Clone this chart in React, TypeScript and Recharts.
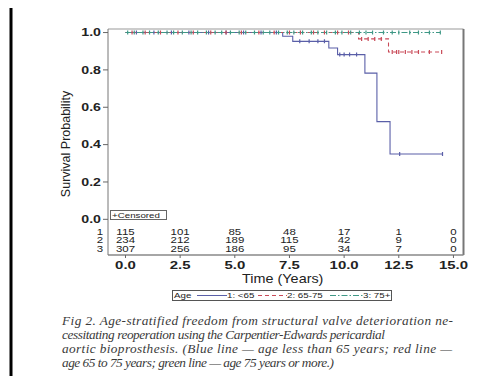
import React from 'react';
import { ComposedChart, Line, Scatter, XAxis, YAxis, ReferenceLine, Legend, Label } from 'recharts';

// ---------- data ----------
const groupLabels = ['1: <65', '2: 65-75', '3: 75+'];

// step events: [time, survival]
const age1Times = [0, 7.19, 7.65, 9.3, 9.7, 10.95, 11.5, 12.1, 14.5];
const age1Surv = [1.0, 0.98, 0.953, 0.917, 0.882, 0.783, 0.523, 0.35, 0.35];
const age2Times = [0, 10.66, 12.03, 14.46];
const age2Surv = [1.0, 0.966, 0.896, 0.896];
const age3Times = [0, 14.4];
const age3Surv = [1.0, 1.0];

// censored times
const age1Censored = [0.5, 1.3, 2.1, 2.9, 3.8, 4.6, 5.4, 6.2, 6.9, 7.97, 8.4, 8.8, 9.1, 9.8, 10.0, 10.25, 10.57, 12.54, 14.5];
const age2Censored = [0.3, 0.9, 1.6, 2.4, 3.1, 3.9, 4.6, 5.3, 6.1, 6.8, 7.5, 8.0, 8.6, 9.1, 9.7, 10.2, 10.8, 11.1, 11.4, 11.7, 12.2, 12.4, 12.5, 12.8, 13.1, 13.4, 13.9, 14.46];
const age3Censored = [0.1, 0.4, 0.8, 1.1, 1.5, 1.9, 2.2, 2.6, 3.0, 3.3, 3.7, 4.1, 4.4, 4.8, 5.2, 5.5, 5.9, 6.3, 6.6, 7.0, 7.4, 7.7, 8.1, 8.5, 8.8, 9.2, 9.6, 9.9, 10.3, 10.7, 11.0, 11.3, 11.8, 12.2, 12.5, 13.0, 13.4, 13.9, 14.4];

// number at risk
const riskTimes = [0, 2.5, 5, 7.5, 10, 12.5, 15];
const riskAge1 = [115, 101, 85, 48, 17, 1, 0];
const riskAge2 = [234, 212, 189, 115, 42, 9, 0];
const riskAge3 = [307, 256, 186, 95, 34, 7, 0];

const xTicks = [0, 2.5, 5, 7.5, 10, 12.5, 15];
const yTicks = [0, 0.2, 0.4, 0.6, 0.8, 1.0];

const captionLines = [
  'Fig 2. Age-stratified freedom from structural valve deterioration ne-',
  'cessitating reoperation using the Carpentier-Edwards pericardial',
  'aortic bioprosthesis. (Blue line \u2014 age less than 65 years; red line \u2014',
  'age 65 to 75 years; green line \u2014 age 75 years or more.)',
];

// ---------- layout / style ----------
const W = 485;
const H = 376;
const PLOT_LEFT = 108;
const PLOT_RIGHT = 463.5;
const PLOT_TOP = 29;
const PLOT_BOTTOM = 255;
const Y_AXIS_W = 60;
const X_AXIS_H = 40;
const MARGIN = {
  top: PLOT_TOP,
  right: W - PLOT_RIGHT,
  bottom: H - PLOT_BOTTOM - X_AXIS_H,
  left: PLOT_LEFT - Y_AXIS_W,
};
const X_DOMAIN: [number, number] = [-0.8, 15.46];
const Y_DOMAIN: [number, number] = [-0.191, 1.019];
const RISK_ROW_Y = [-0.066, -0.111, -0.16]; // vertical placement of at-risk rows (layout)
const CAPTION_WIDTHS = [391, 323, 390, 272];

const BLUE = '#5a5fa8';
const RED = '#c94a58';
const GREEN = '#3f9886';
const TEXT = '#222';
const FONT = '"Liberation Sans", Arial, sans-serif';
const SX = 1.35;

function buildSeries(times: number[], surv: number[], censored: number[]) {
  const pts: { t: number; s: number; c: boolean }[] = [];
  times.forEach((t, i) => pts.push({ t, s: surv[i], c: false }));
  censored.forEach((t) => {
    let s = surv[0];
    for (let i = 0; i < times.length; i++) if (times[i] <= t) s = surv[i];
    const existing = pts.find((p) => p.t === t);
    if (existing) existing.c = true;
    else pts.push({ t, s, c: true });
  });
  return pts.sort((a, b) => a.t - b.t);
}

const series = [
  { name: groupLabels[0], data: buildSeries(age1Times, age1Surv, age1Censored), color: BLUE, dash: undefined as string | undefined },
  { name: groupLabels[1], data: buildSeries(age2Times, age2Surv, age2Censored), color: RED, dash: '4 3' },
  { name: groupLabels[2], data: buildSeries(age3Times, age3Surv, age3Censored), color: GREEN, dash: '6 2 1.5 2' },
];

const riskRows = [riskAge1, riskAge2, riskAge3].map((row, r) =>
  row.map((n, i) => ({ t: riskTimes[i], y: RISK_ROW_Y[r], n }))
);

const makeDot = (color: string) => (props: any) => {
  const { cx, cy, payload, index } = props;
  if (!payload || !payload.c || cx == null || cy == null) return <g key={`d${index}`} />;
  return <line key={`d${index}`} x1={cx} x2={cx} y1={cy - 2} y2={cy + 2} stroke={color} strokeWidth={1.2} />;
};

const YTick = (props: any) => {
  const { y, payload } = props;
  const v = payload.value as number;
  const ri = RISK_ROW_Y.indexOf(v);
  if (ri >= 0) {
    return (
      <text transform={`translate(${PLOT_LEFT - 5},${y + 3}) scale(${SX},1)`} textAnchor="end" fontSize={8.5} fill={TEXT} fontFamily={FONT}>
        {String(ri + 1)}
      </text>
    );
  }
  return (
    <g>
      <line x1={PLOT_LEFT - 5} x2={PLOT_LEFT} y1={y} y2={y} stroke="#666" />
      <text transform={`translate(${PLOT_LEFT - 7},${y + 3.7}) scale(${SX},1)`} textAnchor="end" fontSize={10.5} fill={TEXT} fontFamily={FONT} fontWeight="bold">
        {v.toFixed(1)}
      </text>
    </g>
  );
};

const XTick = (props: any) => {
  const { x, payload } = props;
  const v = payload.value as number;
  return (
    <g>
      <line x1={x} x2={x} y1={PLOT_BOTTOM} y2={PLOT_BOTTOM + 3} stroke="#666" />
      <text transform={`translate(${x},${PLOT_BOTTOM + 14}) scale(1.3,1)`} textAnchor="middle" fontSize={11.5} fill={TEXT} fontFamily={FONT} fontWeight="bold">
        {v.toFixed(1)}
      </text>
    </g>
  );
};

const RiskText = (props: any) => {
  const { cx, cy, payload } = props;
  return (
    <text transform={`translate(${cx},${cy + 3}) scale(${SX},1)`} textAnchor="middle" fontSize={8.5} fill={TEXT} fontFamily={FONT}>
      {payload.n}
    </text>
  );
};

const LegendBox = () => {
  const t = (x: number, s: string) => (
    <text transform={`translate(${x},8) scale(1.3,1)`} fontSize={7.5} fill={TEXT} fontFamily={FONT}>
      {s}
    </text>
  );
  return (
    <svg width={222} height={12} style={{ display: 'block' }}>
      <rect x={0.5} y={0.5} width={219} height={10} fill="#fff" stroke="#555" strokeWidth={1} />
      {t(2, 'Age')}
      <line x1={25} x2={55} y1={5.5} y2={5.5} stroke={series[0].color} strokeWidth={1} />
      {t(55, series[0].name)}
      <line x1={86} x2={115} y1={5.5} y2={5.5} stroke={series[1].color} strokeWidth={1} strokeDasharray={series[1].dash} />
      {t(115, series[1].name)}
      <line x1={158} x2={191} y1={5.5} y2={5.5} stroke={series[2].color} strokeWidth={1} strokeDasharray={series[2].dash} />
      {t(191, series[2].name)}
    </svg>
  );
};

export default function App() {
  return (
    <div style={{ position: 'relative', width: W, height: H, margin: '-8px 0 0 -8px', background: '#fff' }}>
      <ComposedChart width={W} height={H} margin={MARGIN}>
        <XAxis
          type="number"
          dataKey="t"
          domain={X_DOMAIN}
          ticks={xTicks}
          interval={0}
          allowDataOverflow
          height={X_AXIS_H}
          tick={<XTick />}
          tickLine={false}
          axisLine={{ stroke: '#888', strokeWidth: 1.5 }}
        >
          <Label
            content={(p: any) => {
              const vb = p.viewBox || {};
              return (
                <text transform={`translate(${vb.x + vb.width / 2 - 3},${PLOT_BOTTOM + 28}) scale(1.2,1)`} textAnchor="middle" fontSize={12} fill={TEXT} fontFamily={FONT}>
                  Time (Years)
                </text>
              );
            }}
          />
        </XAxis>
        <YAxis
          type="number"
          domain={Y_DOMAIN}
          ticks={[...RISK_ROW_Y, ...yTicks]}
          interval={0}
          allowDataOverflow
          width={Y_AXIS_W}
          tick={<YTick />}
          tickLine={false}
          axisLine={{ stroke: '#777', strokeWidth: 1 }}
        >
          <Label
            content={(p: any) => {
              const vb = p.viewBox || {};
              const cx = vb.x + 22;
              const cy = vb.y + vb.height / 2 + 2;
              return (
                <text transform={`translate(${cx},${cy}) rotate(-90)`} textAnchor="middle" fontSize={12.5} fill={TEXT} fontFamily={FONT}>
                  Survival Probability
                </text>
              );
            }}
          />
        </YAxis>
        <ReferenceLine y={Y_DOMAIN[1]} stroke="#999" strokeWidth={1} ifOverflow="extendDomain" />
        <ReferenceLine x={X_DOMAIN[1]} stroke="#777" strokeWidth={2} ifOverflow="extendDomain" />
        {series.map((s) => (
          <Line
            key={s.name}
            name={s.name}
            data={s.data}
            dataKey="s"
            type="stepAfter"
            stroke={s.color}
            strokeWidth={1.1}
            strokeDasharray={s.dash}
            dot={makeDot(s.color)}
            activeDot={false}
            isAnimationActive={false}
          />
        ))}
        {riskRows.map((row, i) => (
          <Scatter key={`risk${i}`} data={row} dataKey="y" shape={<RiskText />} isAnimationActive={false} legendType="none" />
        ))}
        <Legend
          layout="vertical"
          align="center"
          verticalAlign="middle"
          wrapperStyle={{ left: 172, top: 290, width: 222, height: 12 }}
          content={() => <LegendBox />}
        />
      </ComposedChart>
      <svg width={W} height={H} style={{ position: 'absolute', left: 0, top: 0, pointerEvents: 'none' }}>
        <line x1={0} x2={W} y1={0.5} y2={0.5} stroke="#ddd" />
        <line x1={9} x2={W} y1={7} y2={7} stroke="#000" strokeWidth={2} />
        <line x1={11} x2={11} y1={6} y2={H} stroke="#000" strokeWidth={3} />
        <rect x={110.5} y={210.5} width={56} height={9} fill="#fff" stroke="#666" />
        <text transform={`translate(112,218) scale(1.3,1)`} fontSize={7.5} fill={TEXT} fontFamily={FONT}>
          +Censored
        </text>
        {captionLines.map((line, i) => (
          <text
            key={i}
            x={62}
            y={325 + i * 14}
            fontSize={13.3}
            fontStyle="italic"
            fontFamily='"Liberation Serif", "DejaVu Serif", serif'
            fill="#3a3a3a"
            textLength={CAPTION_WIDTHS[i]}
            lengthAdjust="spacing"
          >
            {line}
          </text>
        ))}
      </svg>
    </div>
  );
}
